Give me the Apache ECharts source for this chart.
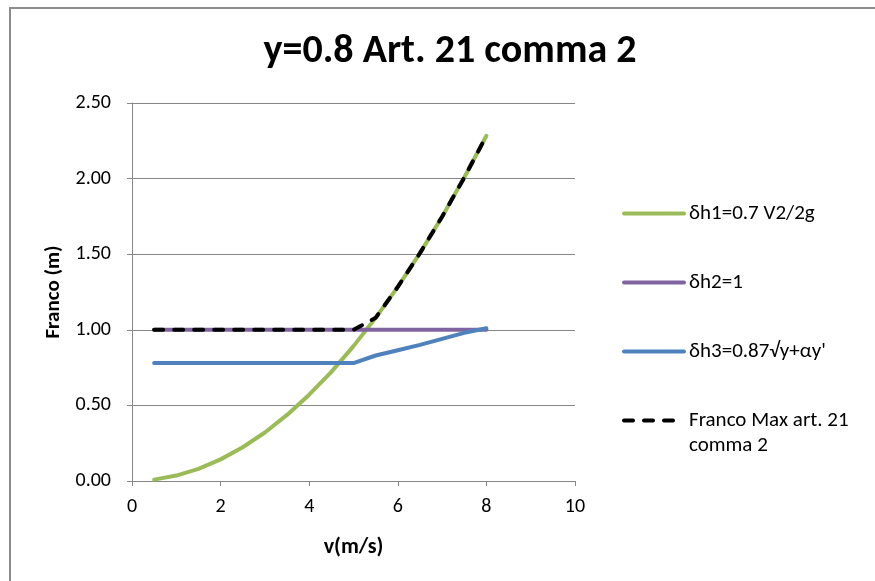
<!DOCTYPE html>
<html>
<head>
<meta charset="utf-8">
<script src="https://cdn.jsdelivr.net/npm/echarts@6/dist/echarts.min.js"></script>
<style>
  html, body { margin: 0; padding: 0; background: #fff; }
  #chart { width: 875px; height: 581px; }
</style>
</head>
<body>
<div id="chart"></div>
<script>
// Flow velocity (m/s)
const velocity = [0.5, 1, 1.5, 2, 2.5, 3, 3.5, 4, 4.5, 5, 5.5, 6, 6.5, 7, 7.5, 8];
// δh1 = 0.7 V²/2g
const dh1 = [0.009, 0.036, 0.080, 0.143, 0.223, 0.321, 0.437, 0.571, 0.722, 0.892, 1.079, 1.284, 1.507, 1.748, 2.007, 2.283];
// δh2 = 1
const dh2 = [1, 1, 1, 1, 1, 1, 1, 1, 1, 1, 1, 1, 1, 1, 1, 1];
// δh3 = 0.87√y + αy'
const dh3 = [0.78, 0.78, 0.78, 0.78, 0.78, 0.78, 0.78, 0.78, 0.78, 0.78, 0.83, 0.865, 0.90, 0.94, 0.98, 1.01];
// Franco max, art. 21 comma 2
const francoMax = [1, 1, 1, 1, 1, 1, 1, 1, 1, 1, 1.079, 1.284, 1.507, 1.748, 2.007, 2.283];

const seriesNames = ['δh1=0.7 V2/2g', 'δh2=1', 'δh3=0.87√y+αy\'', 'Franco Max art. 21'];
const francoLabelLines = ['Franco Max art. 21', 'comma 2'];
const xTicks = { min: 0, max: 10, interval: 2 };
const yTicks = { min: 0, max: 2.5, interval: 0.5 };

const FONT = 'Carlito, Lato, sans-serif';
const pairs = vals => velocity.map((v, i) => [v, vals[i]]);

const legendCommon = {
  orient: 'vertical',
  left: 622,
  padding: 0,
  itemWidth: 60,
  itemHeight: 4,
  itemStyle: { opacity: 0 },
  lineStyle: { width: 4 },
  textStyle: { fontFamily: FONT, fontSize: 21, color: '#000', lineHeight: 25 }
};

const chart = echarts.init(document.getElementById('chart'), null, { renderer: 'canvas' });

chart.setOption({
  backgroundColor: '#fff',
  animation: false,
  textStyle: { fontFamily: FONT },
  title: {
    text: 'y=0.8 Art. 21 comma 2',
    left: 445,
    top: 27,
    textAlign: 'center',
    textStyle: { fontFamily: FONT, fontSize: 40, fontWeight: 'bold', color: '#000' }
  },
  graphic: [{
    type: 'rect',
    shape: { x: 10, y: 8, width: 1000, height: 1000 },
    style: { fill: 'none', stroke: '#8c8c8c', lineWidth: 2 },
    silent: true
  }],
  grid: { left: 132, right: 300, top: 103, bottom: 100, containLabel: false },
  legend: [
    Object.assign({}, legendCommon, {
      top: 201,
      itemGap: 44,
      data: seriesNames.slice(0, 3)
    }),
    Object.assign({}, legendCommon, {
      top: 383,
      data: [seriesNames[3]],
      // first text line sits level with the dashed icon, second line below it
      formatter: () => '{s| }\n{t|' + francoLabelLines[0] + '}\n{t|' + francoLabelLines[1] + '}',
      textStyle: {
        fontFamily: FONT, fontSize: 21, color: '#000', lineHeight: 25,
        rich: {
          s: { fontSize: 21, lineHeight: 25 },
          t: { fontFamily: FONT, fontSize: 21, color: '#000', lineHeight: 25 }
        }
      }
    })
  ],
  xAxis: {
    type: 'value',
    min: xTicks.min, max: xTicks.max, interval: xTicks.interval,
    name: 'v(m/s)',
    nameLocation: 'middle',
    nameGap: 55,
    nameTextStyle: { fontFamily: FONT, fontSize: 22, fontWeight: 'bold', color: '#000' },
    axisLine: { show: true, onZero: false, lineStyle: { color: '#868686', width: 1 } },
    axisTick: { show: true, length: 5, inside: false, lineStyle: { color: '#868686' } },
    axisLabel: { margin: 16, fontFamily: FONT, fontSize: 20, color: '#000' },
    splitLine: { show: false }
  },
  yAxis: {
    type: 'value',
    min: yTicks.min, max: yTicks.max, interval: yTicks.interval,
    name: 'Franco (m)',
    nameLocation: 'middle',
    nameGap: 67,
    nameRotate: 90,
    nameTextStyle: { fontFamily: FONT, fontSize: 21, fontWeight: 'bold', color: '#000' },
    axisLine: { show: true, lineStyle: { color: '#868686', width: 1 } },
    axisTick: { show: true, length: 5, inside: false, lineStyle: { color: '#868686' } },
    axisLabel: { margin: 21, fontFamily: FONT, fontSize: 20, color: '#000', formatter: v => v.toFixed(2) },
    splitLine: { show: true, lineStyle: { color: '#868686', width: 1 } }
  },
  series: [
    {
      name: seriesNames[0], type: 'line', data: pairs(dh1),
      symbol: 'none', showSymbol: false,
      lineStyle: { color: '#9BBB59', width: 4, cap: 'round', join: 'round' },
      itemStyle: { color: '#9BBB59' }
    },
    {
      name: seriesNames[1], type: 'line', data: pairs(dh2),
      symbol: 'none', showSymbol: false,
      lineStyle: { color: '#8064A2', width: 4, cap: 'round', join: 'round' },
      itemStyle: { color: '#8064A2' }
    },
    {
      name: seriesNames[2], type: 'line', data: pairs(dh3),
      symbol: 'none', showSymbol: false,
      lineStyle: { color: '#4F81BD', width: 4, cap: 'round', join: 'round' },
      itemStyle: { color: '#4F81BD' }
    },
    {
      name: seriesNames[3], type: 'line', data: pairs(francoMax),
      symbol: 'none', showSymbol: false,
      lineStyle: { color: '#000', width: 4, type: [9, 11], cap: 'round', join: 'round' },
      itemStyle: { color: '#000' }
    }
  ]
});
</script>
</body>
</html>
